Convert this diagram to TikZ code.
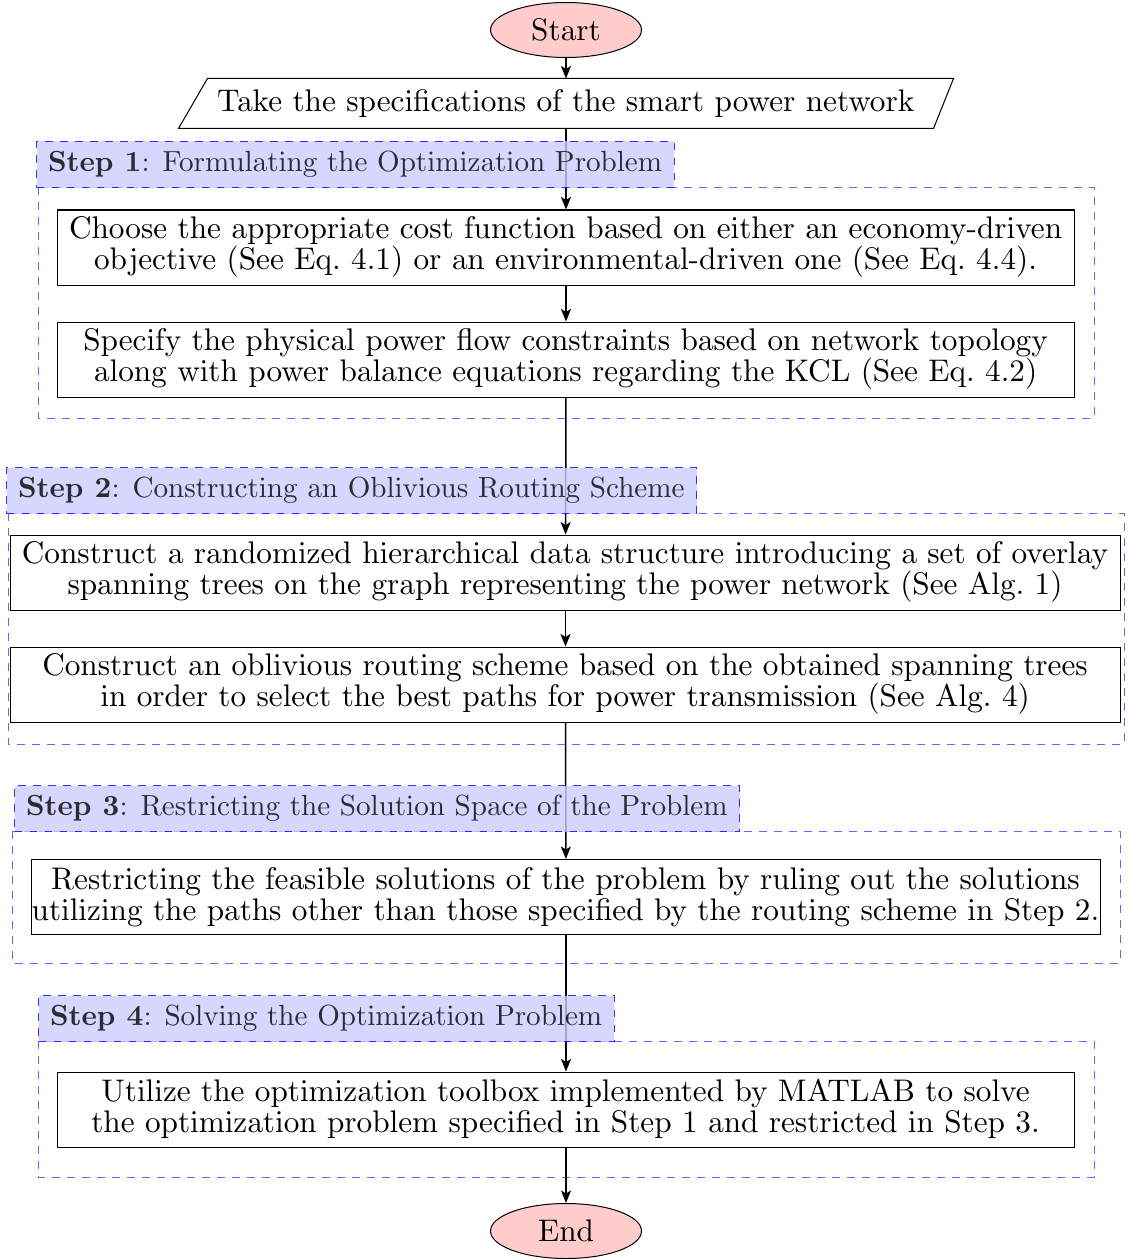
\documentclass[tikz,border=0pt]{standalone}
\usetikzlibrary{shapes.geometric,arrows.meta,calc}
% text faces: Computer Modern at the design size 10, set larger
\font\bodyrm=cmr10 at 12.5pt
\font\lblrm=cmr10 at 11.65pt
\font\lblbf=cmbx10 at 11.65pt
\begin{document}
\begin{tikzpicture}[x=0.4pt,y=-0.4pt,
  every node/.style={font={\bodyrm\baselineskip=12.4pt}},
  terminal/.style={ellipse,draw,fill=red!20,minimum width=60.4pt,minimum height=22pt,inner sep=0pt},
  procbox/.style={draw,align=center,inner sep=0pt,minimum height=30pt},
  steplabel/.style={anchor=north west,draw=blue,dashed,fill=blue!20,opacity=0.8,
    font=\lblrm,inner xsep=4.6pt,inner ysep=0pt,minimum height=18.4pt},
  stepframe/.style={draw=blue!60,dashed},
  flow/.style={-{Stealth[length=5pt,width=4pt,inset=1.2pt]},semithick}]
\useasboundingbox (0,0) rectangle (1130,1259);

% dashed frames around each step
\draw[stepframe] (38,187) rectangle (1094,418);
\draw[stepframe] (8,513) rectangle (1124,744);
\draw[stepframe] (12,831) rectangle (1120,963);
\draw[stepframe] (38,1041) rectangle (1094,1177);

% flow chart nodes
\node[terminal] (start) at (566,30) {Start};
\node[inner sep=0pt,minimum width=309.6pt,minimum height=19.6pt] (spec) at (566,103.5)
  {Take the specifications of the smart power network};
\draw ($(spec.north west)+(29,0)$) -- (spec.north east)
  -- ($(spec.south east)+(-20,0)$) -- (spec.south west) -- cycle;

\node[procbox,minimum width=406.4pt] (b1) at (566,247.5)
  {Choose the appropriate cost function based on either an economy-driven\\
   objective (See Eq.~4.1) or an environmental-driven one (See Eq.~4.4).};
\node[procbox,minimum width=406.4pt] (b2) at (566,359.5)
  {Specify the physical power flow constraints based on network topology\\
   along with power balance equations regarding the KCL (See Eq.~4.2)};
\node[procbox,minimum width=443.6pt] (b3) at (565.5,572.5)
  {Construct a randomized hierarchical data structure introducing a set of overlay\\
   spanning trees on the graph representing the power network (See Alg.~1)};
\node[procbox,minimum width=443.6pt] (b4) at (565.5,684.5)
  {Construct an oblivious routing scheme based on the obtained spanning trees\\
   in order to select the best paths for power transmission (See Alg.~4)};
\node[procbox,minimum width=427.2pt] (b5) at (566,897)
  {Restricting the feasible solutions of the problem by ruling out the solutions\\
   utilizing the paths other than those specified by the routing scheme in Step 2.};
\node[procbox,minimum width=406.4pt] (b6) at (566,1109.5)
  {Utilize the optimization toolbox implemented by MATLAB to solve\\
   the optimization problem specified in Step 1 and restricted in Step 3.};
\node[terminal] (end) at (566,1231) {End};

% connectors
\draw[flow] (start) -- (spec);
\draw[flow] (spec) -- (b1);
\draw[flow] (b1) -- (b2);
\draw[flow] (b2) -- (b3);
\draw[flow] (b3) -- (b4);
\draw[flow] (b4) -- (b5);
\draw[flow] (b5) -- (b6);
\draw[flow] (b6) -- (end);

% step titles
\node[steplabel] (s1) at (36,141) {{\lblbf Step 1}: Formulating the Optimization Problem};
\node[steplabel] (s2) at (6,467) {{\lblbf Step 2}: Constructing an Oblivious Routing Scheme};
\node[steplabel] (s3) at (14,785) {{\lblbf Step 3}: Restricting the Solution Space of the Problem};
\node[steplabel] (s4) at (38,995) {{\lblbf Step 4}: Solving the Optimization Problem};
\end{tikzpicture}
\end{document}
